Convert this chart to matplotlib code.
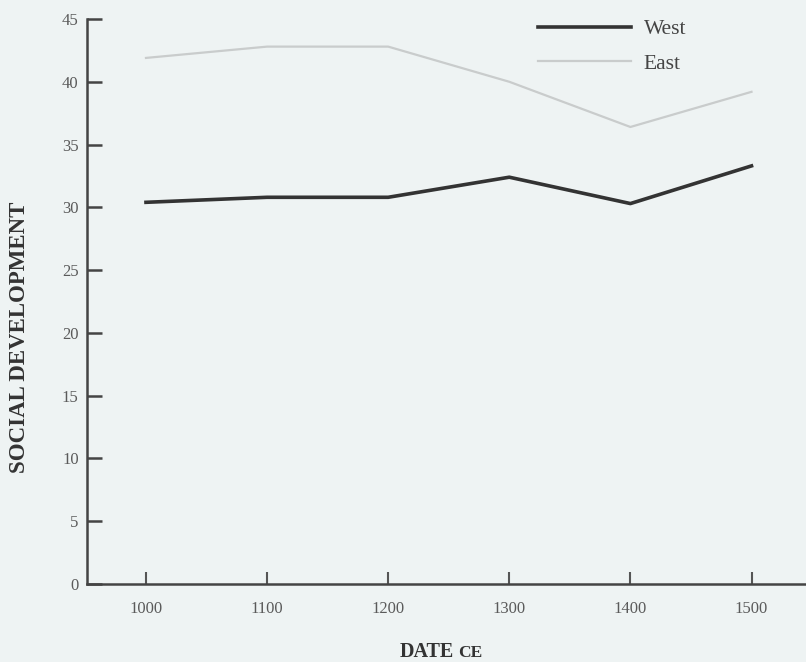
import matplotlib
matplotlib.use("Agg")
import matplotlib.pyplot as plt

years = [1000, 1100, 1200, 1300, 1400, 1500]
west = [30.4, 30.8, 30.8, 32.4, 30.3, 33.3]
east = [41.9, 42.8, 42.8, 40.0, 36.4, 39.2]
yticks = [0, 5, 10, 15, 20, 25, 30, 35, 40, 45]

bg = "#eef3f3"
plt.rcParams['font.family'] = ['Liberation Serif', 'DejaVu Serif']

fig = plt.figure(figsize=(8.06, 6.62), dpi=100, facecolor=bg)
ax = fig.add_axes([87/806, 1 - 584/662, 1 - 87/806, (584 - 19)/662])
ax.set_facecolor(bg)

ax.plot(years, west, color="#333333", lw=2.6, label="West")
ax.plot(years, east, color="#c9cccc", lw=1.6, label="East")

ax.set_xlim(951.3, 1545)
ax.set_ylim(0, 45)
ax.set_yticks(yticks)
ax.set_xticks(years)

for s in ["top", "right"]:
    ax.spines[s].set_visible(False)
for s in ["left", "bottom"]:
    ax.spines[s].set_color("#444444")
    ax.spines[s].set_linewidth(1.8)

ax.tick_params(axis="y", direction="in", length=11, width=1.8, color="#444444",
               labelsize=12, labelcolor="#5a5a5a", pad=6)
ax.tick_params(axis="x", direction="in", length=9, width=1.5, color="#555555",
               labelsize=12, labelcolor="#5a5a5a", pad=12)

leg = ax.legend(loc="upper left", bbox_to_anchor=(519/806, 1.0),
                bbox_transform=fig.transFigure, frameon=False, fontsize=15.5,
                handlelength=4.3, handletextpad=0.6, labelspacing=0.65,
                labelcolor="#444444")

fig.text(20/806, 1 - 337/662, "SOCIAL DEVELOPMENT", rotation=90, ha="center",
         va="center", fontsize=16.5, color="#333333", fontweight="bold")
fig.text(454/806, 1 - 652/662, "DATE", ha="right", va="center", fontsize=14.5,
         color="#333333", fontweight="bold")
fig.text(458/806, 1 - 653/662, "CE", ha="left", va="center", fontsize=12.5,
         color="#333333", fontweight="bold")

fig.savefig("out.png", dpi=100, facecolor=bg)
